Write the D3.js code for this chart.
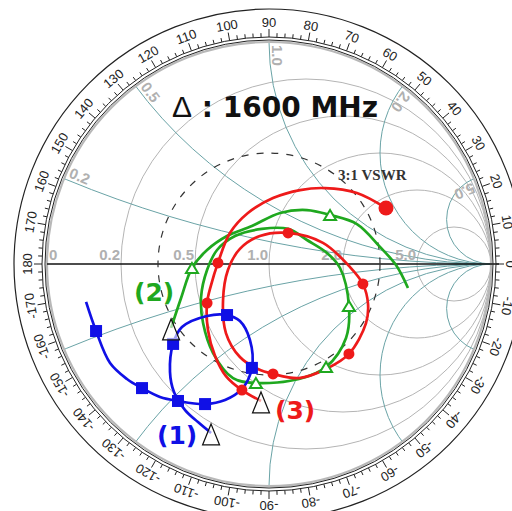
<!DOCTYPE html>
<html><head><meta charset="utf-8">
<script src="https://cdn.jsdelivr.net/npm/d3@7"></script>
<style>html,body{margin:0;padding:0;background:#fff}</style>
</head><body>
<svg id="chart" width="512" height="511"></svg>
<script>
// ---- Smith chart grid values ----
const resistanceValues = [0.2, 0.5, 1, 2, 5];
const resistanceLabels = ["0", "0.2", "0.5", "1.0", "2.0", "5.0"];
const resistanceLabelValues = [0, 0.2, 0.5, 1, 2, 5];
const reactanceValues = [0.2, 0.5, 1, 2, 5];
const reactanceLabels = ["0.2", "0.5", "1.0", "2.0", "5.0"];
const angleLabels = d3.range(-170, 181, 10);
const vswrRadius = 0.5; // |Γ| for 3:1 VSWR

// ---- Measured reflection coefficients (Re Γ, Im Γ) ----
// (1) blue
const blueTrace = [
  [-0.824,-0.171],[-0.779,-0.302],[-0.716,-0.446],[-0.640,-0.518],[-0.572,-0.559],
  [-0.491,-0.599],[-0.410,-0.617],[-0.288,-0.631],[-0.198,-0.613],[-0.122,-0.563],
  [-0.077,-0.468],[-0.086,-0.342],[-0.131,-0.257],[-0.189,-0.230],[-0.279,-0.234],
  [-0.392,-0.284],[-0.432,-0.360],[-0.446,-0.486],[-0.428,-0.577],[-0.378,-0.658],
  [-0.320,-0.712],[-0.261,-0.761]
];
const blueMarkers = [1, 4, 6, 7, 10, 13, 16];

// (2) green
const greenTrace = [
  [-0.441,-0.288],[-0.396,-0.153],[-0.347,-0.018],[-0.279,0.063],[-0.189,0.126],
  [-0.077,0.171],[0.050,0.230],[0.171,0.243],[0.275,0.221],[0.396,0.180],
  [0.500,0.077],[0.572,-0.005],[0.626,-0.108]
];
const greenMarkers = [2, 8];
const greenLoop = [
  [-0.032,0.158],[0.086,0.158],[0.171,0.108],[0.261,0.050],[0.320,-0.018],
  [0.360,-0.189],[0.347,-0.333],[0.257,-0.464],[0.135,-0.518],[-0.059,-0.536],
  [-0.162,-0.514],[-0.252,-0.401],[-0.297,-0.266],[-0.306,-0.149],[-0.279,-0.027],
  [-0.234,0.063],[-0.153,0.126]
];
const greenLoopMarkers = [5, 7, 9];

// (3) red
const redTrace = [
  [-0.036,-0.617],[-0.122,-0.568],[-0.194,-0.505],[-0.243,-0.414],[-0.275,-0.297],
  [-0.279,-0.176],[-0.261,-0.095],[-0.230,0.005],[-0.176,0.140],[-0.095,0.230],
  [0.018,0.297],[0.140,0.333],[0.252,0.342],[0.396,0.320],[0.527,0.252]
];
const redMarkers = [1, 5, 7];
const redLoop = [
  [0.086,0.140],[0.243,0.095],[0.365,-0.014],[0.423,-0.090],[0.446,-0.180],
  [0.437,-0.266],[0.360,-0.405],[0.257,-0.473],[0.135,-0.514],[0.018,-0.495],
  [-0.050,-0.473],[-0.131,-0.419],[-0.194,-0.311],[-0.207,-0.162],[-0.185,-0.027],
  [-0.131,0.068],[-0.041,0.126]
];
const redLoopMarkers = [0, 3, 6, 9];

const seriesLabels = ["(1)", "(2)", "(3)"];
const titleDelta = "\u0394";
const titleText = " : 1600 MHz";
const vswrText = "3:1 VSWR";

// ---- layout ----
const CX = 269, CY = 264, R = 222;
const BLUE = "#1010e6", GREEN = "#1fa81f", RED = "#ee1a1a";
const GRID_R = "#b4b4b4", GRID_X = "#6aa3a6";

const svg = d3.select("#chart");
const gx = d3.scaleLinear().domain([-1, 1]).range([CX - R, CX + R]);
const gy = d3.scaleLinear().domain([-1, 1]).range([CY + R, CY - R]);
const len = v => gx(v) - gx(0);

svg.append("defs").append("clipPath").attr("id", "unit")
  .append("circle").attr("cx", gx(0)).attr("cy", gy(0)).attr("r", len(1));

// grid: constant resistance and reactance circles
const grid = svg.append("g").attr("clip-path", "url(#unit)").attr("fill", "none");
resistanceValues.forEach(r => {
  grid.append("circle").attr("cx", gx(r / (1 + r))).attr("cy", gy(0)).attr("r", len(1 / (1 + r)))
    .attr("stroke", GRID_R).attr("stroke-width", 1);
});
reactanceValues.forEach(x => {
  [x, -x].forEach(v => {
    grid.append("circle").attr("cx", gx(1)).attr("cy", gy(1 / v)).attr("r", len(1 / Math.abs(v)))
      .attr("stroke", GRID_X).attr("stroke-width", 1);
  });
});
svg.append("circle").attr("cx", gx(0)).attr("cy", gy(0)).attr("r", len(1))
  .attr("fill", "none").attr("stroke", "#b8b8b8").attr("stroke-width", 2.2);
svg.append("line").attr("x1", gx(-1)).attr("x2", gx(1) + 8).attr("y1", gy(0)).attr("y2", gy(0))
  .attr("stroke", "#111").attr("stroke-width", 1.3);

// resistance labels along the real axis
resistanceLabelValues.forEach((r, i) => {
  const xc = gx((r - 1) / (r + 1));
  svg.append("text").attr("x", r === 0 ? xc + 2 : xc - 1).attr("y", gy(0) - 4)
    .attr("text-anchor", r === 0 ? "start" : "end")
    .attr("font-family", "Liberation Sans, Arial, sans-serif").attr("font-weight", "bold")
    .attr("font-size", 15).attr("fill", "#b0b0b0").text(resistanceLabels[i]);
});

// reactance labels on the rim (upper half)
reactanceValues.forEach((x, i) => {
  const gr = (x * x - 1) / (x * x + 1), gi = 2 * x / (x * x + 1);
  const px = gx(gr), py = gy(gi);
  const rotDeg = Math.atan2(CY - py, CX - px) * 180 / Math.PI;
  svg.append("text")
    .attr("transform", `translate(${px},${py}) rotate(${rotDeg})`)
    .attr("x", 3).attr("y", -3)
    .attr("font-family", "Liberation Sans, Arial, sans-serif").attr("font-weight", "bold")
    .attr("font-size", 15).attr("fill", "#b0b0b0").text(reactanceLabels[i]);
});

// angle ring
const ring = svg.append("g");
[len(1) + 2, len(1) + 5].forEach(r => ring.append("circle").attr("cx", CX).attr("cy", CY).attr("r", r)
  .attr("fill", "none").attr("stroke", "#222").attr("stroke-width", 1));
ring.append("circle").attr("cx", CX).attr("cy", CY).attr("r", len(1) + 33)
  .attr("fill", "none").attr("stroke", "#222").attr("stroke-width", 1.2);
d3.range(-178, 181, 2).forEach(a => {
  const t = a * Math.PI / 180, r0 = len(1) + 5, r1 = r0 + (a % 10 === 0 ? 8 : 4);
  ring.append("line")
    .attr("x1", CX + r0 * Math.cos(t)).attr("y1", CY - r0 * Math.sin(t))
    .attr("x2", CX + r1 * Math.cos(t)).attr("y2", CY - r1 * Math.sin(t))
    .attr("stroke", "#222").attr("stroke-width", 1);
});
angleLabels.forEach(a => {
  const t = a * Math.PI / 180, r = len(1) + 20;
  ring.append("text")
    .attr("transform", `translate(${CX + r * Math.cos(t)},${CY - r * Math.sin(t)}) rotate(${90 - a})`)
    .attr("text-anchor", "middle").attr("dy", "0.35em")
    .attr("font-family", "Liberation Sans, Arial, sans-serif").attr("font-size", 13)
    .attr("fill", "#222").text(String(a));
});

// 3:1 VSWR circle
svg.append("circle").attr("cx", gx(0)).attr("cy", gy(0)).attr("r", len(vswrRadius))
  .attr("fill", "none").attr("stroke", "#333").attr("stroke-width", 1.2).attr("stroke-dasharray", "7,8");
svg.append("text").attr("x", 338).attr("y", 180)
  .attr("font-family", "Liberation Serif, Times New Roman, serif").attr("font-weight", "bold")
  .attr("font-size", 15).attr("fill", "#333").text(vswrText);

// title
const title = svg.append("text").attr("x", 172).attr("y", 117)
  .attr("font-family", "DejaVu Sans, Verdana, sans-serif").attr("font-weight", "bold")
  .attr("font-size", 28).attr("fill", "#111");
title.append("tspan").attr("font-family", "Liberation Sans, Arial, sans-serif")
  .attr("font-weight", "normal").attr("font-size", 30).text(titleDelta);
title.append("tspan").text(titleText);

// traces
const line = d3.line().x(d => gx(d[0])).y(d => gy(d[1])).curve(d3.curveCatmullRom.alpha(0.5));
const loopLine = d3.line().x(d => gx(d[0])).y(d => gy(d[1])).curve(d3.curveCatmullRomClosed.alpha(0.5));
const traces = svg.append("g").attr("fill", "none").attr("stroke-width", 2.7).attr("stroke-linejoin", "round");
traces.append("path").attr("d", loopLine(greenLoop)).attr("stroke", GREEN);
traces.append("path").attr("d", line(greenTrace)).attr("stroke", GREEN);
traces.append("path").attr("d", loopLine(redLoop)).attr("stroke", RED);
traces.append("path").attr("d", line(redTrace)).attr("stroke", RED);
traces.append("path").attr("d", line(blueTrace)).attr("stroke", BLUE);

// markers
const mk = svg.append("g");
function tri(cx, cy, w, h) {
  return `M${cx},${cy - h / 2}L${cx + w / 2},${cy + h / 2}L${cx - w / 2},${cy + h / 2}Z`;
}
blueMarkers.forEach(i => {
  const d = blueTrace[i];
  mk.append("rect").attr("x", gx(d[0]) - 6).attr("y", gy(d[1]) - 6).attr("width", 12).attr("height", 12).attr("fill", BLUE);
});
greenMarkers.map(i => greenTrace[i]).concat(greenLoopMarkers.map(i => greenLoop[i])).forEach(d => {
  mk.append("path").attr("d", tri(gx(d[0]), gy(d[1]), 12, 10)).attr("fill", "#fff").attr("stroke", GREEN).attr("stroke-width", 2);
});
redMarkers.map(i => redTrace[i]).concat(redLoopMarkers.map(i => redLoop[i])).forEach(d => {
  mk.append("circle").attr("cx", gx(d[0])).attr("cy", gy(d[1])).attr("r", 5.5).attr("fill", RED);
});
const redEnd = redTrace[redTrace.length - 1];
mk.append("circle").attr("cx", gx(redEnd[0])).attr("cy", gy(redEnd[1])).attr("r", 7.5).attr("fill", RED);

// start markers (black open triangles)
[blueTrace[blueTrace.length - 1], greenTrace[0], redTrace[0]].forEach(d => {
  const x = gx(d[0]), y = gy(d[1]);
  mk.append("path").attr("d", `M${x},${y - 9}L${x + 8.5},${y + 12}L${x - 8.5},${y + 12}Z`)
    .attr("fill", "#fff").attr("fill-opacity", 0.6).attr("stroke", "#111").attr("stroke-width", 1.2);
});

// series labels
const lab = svg.append("g").attr("font-family", "DejaVu Sans, Verdana, sans-serif").attr("font-weight", "bold").attr("font-size", 25);
lab.append("text").attr("x", 157).attr("y", 444).attr("fill", BLUE).text(seriesLabels[0]);
lab.append("text").attr("x", 134).attr("y", 301).attr("fill", GREEN).text(seriesLabels[1]);
lab.append("text").attr("x", 275).attr("y", 419).attr("fill", RED).text(seriesLabels[2]);
</script>
</body></html>
